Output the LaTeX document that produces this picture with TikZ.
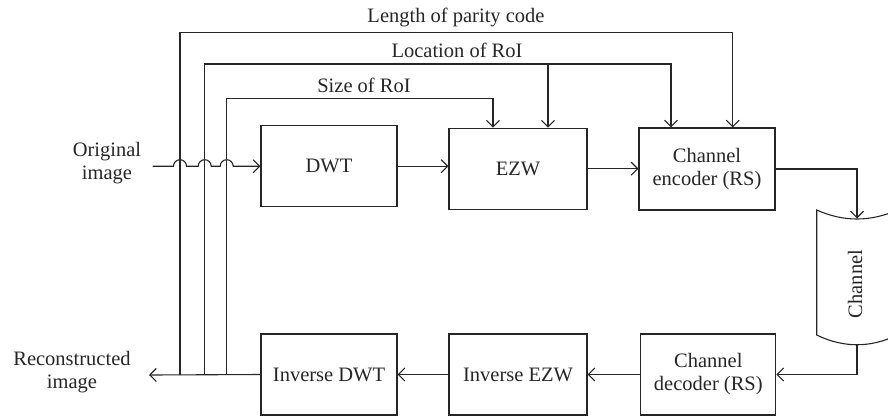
\documentclass[tikz,border=0pt]{standalone}
\usepackage{fontspec}
\setmainfont{Liberation Serif}
\usetikzlibrary{arrows.meta}
\begin{document}
\begin{tikzpicture}[x=1pt,y=-1pt, line width=1.1pt, draw=black!85, text=black!85,
  box/.style={draw, minimum width=136pt, minimum height=81pt, align=center, inner sep=0pt, font=\fontsize{20.5}{23}\selectfont},
  lbl/.style={font=\fontsize{20.5}{23}\selectfont, align=center, inner sep=0pt},
  arr/.style={-{Straight Barb[length=6.5pt,width=13pt]}}]
\useasboundingbox (0,0) rectangle (888,416);

% top row
\node[box] (dwt) at (329,166.2) {DWT};
\node[box, minimum width=138pt] (ezw) at (518,168.7) {EZW};
\node[box, minimum height=82pt] (enc) at (707,169) {Channel\\encoder (RS)};
% bottom row
\node[box] (idwt) at (329,374.5) {Inverse DWT};
\node[box, minimum width=138pt] (iezw) at (518,374.5) {Inverse EZW};
\node[box, minimum width=135pt] (dec) at (708.3,374.5) {Channel\\decoder (RS)};

% channel shape
\begin{scope}
\clip (0,0) rectangle (888,416);
\draw (897.3,210) .. controls (870.4,222) and (843.6,222) .. (816.7,210)
  -- (816.7,335) .. controls (843.6,348) and (870.4,348) .. (897.3,335);
\end{scope}
\coordinate (chtop) at (857,218.5);
\coordinate (chbot) at (857,344.5);
\node[lbl, rotate=90] (ch) at (855,284) {Channel};

% labels
\node[lbl, anchor=base] (lenl) at (456,22) {Length of parity code};
\node[lbl, anchor=base] (locl) at (457,57) {Location of RoI};
\node[lbl, anchor=base] (sizl) at (364,92) {Size of RoI};
\node[lbl] (orig) at (107,163) {Original\\image};
\node[lbl] (recon) at (72,372) {Reconstructed\\image};

% junction coordinates
\coordinate (inl) at (152.7,166.2);
\coordinate (outl) at (149,375);
\coordinate (j1) at (180,375);
\coordinate (j2) at (204.7,375);
\coordinate (j3) at (226.7,375);
\coordinate (t1) at (180,32.3);
\coordinate (t2) at (204.7,64);
\coordinate (t3) at (226.7,98.3);
\coordinate (br) at (548,64);

% main flow
\draw[arr] (inl) -- (173.5,166.2) arc[start angle=180,end angle=0,radius=6.5pt]
  -- (198.2,166.2) arc[start angle=180,end angle=0,radius=6.5pt]
  -- (220.2,166.2) arc[start angle=180,end angle=0,radius=6.5pt]
  -- (dwt.west);
\draw[arr] (dwt.east) -- (dwt.east -| ezw.west);
\draw[arr] (ezw.east) -- (ezw.east -| enc.west);
\draw[arr] (enc.east) -| (chtop);
\draw[arr] (chbot) |- (dec.east);
\draw[arr] (dec.west) -- (dec.west -| iezw.east);
\draw[arr] (iezw.west) -- (iezw.west -| idwt.east);
\draw[arr] (idwt.west) -- (outl);

% feedback side information
\draw[arr] (j1) -- (t1) -| ([xshift=25.7pt]enc.north);
\draw[arr] (j2) -- (t2) -| ([xshift=-36pt]enc.north);
\draw[arr] (br) -- ([xshift=30pt]ezw.north);
\draw[arr] (j3) -- (t3) -| ([xshift=-25pt]ezw.north);
\end{tikzpicture}
\end{document}
